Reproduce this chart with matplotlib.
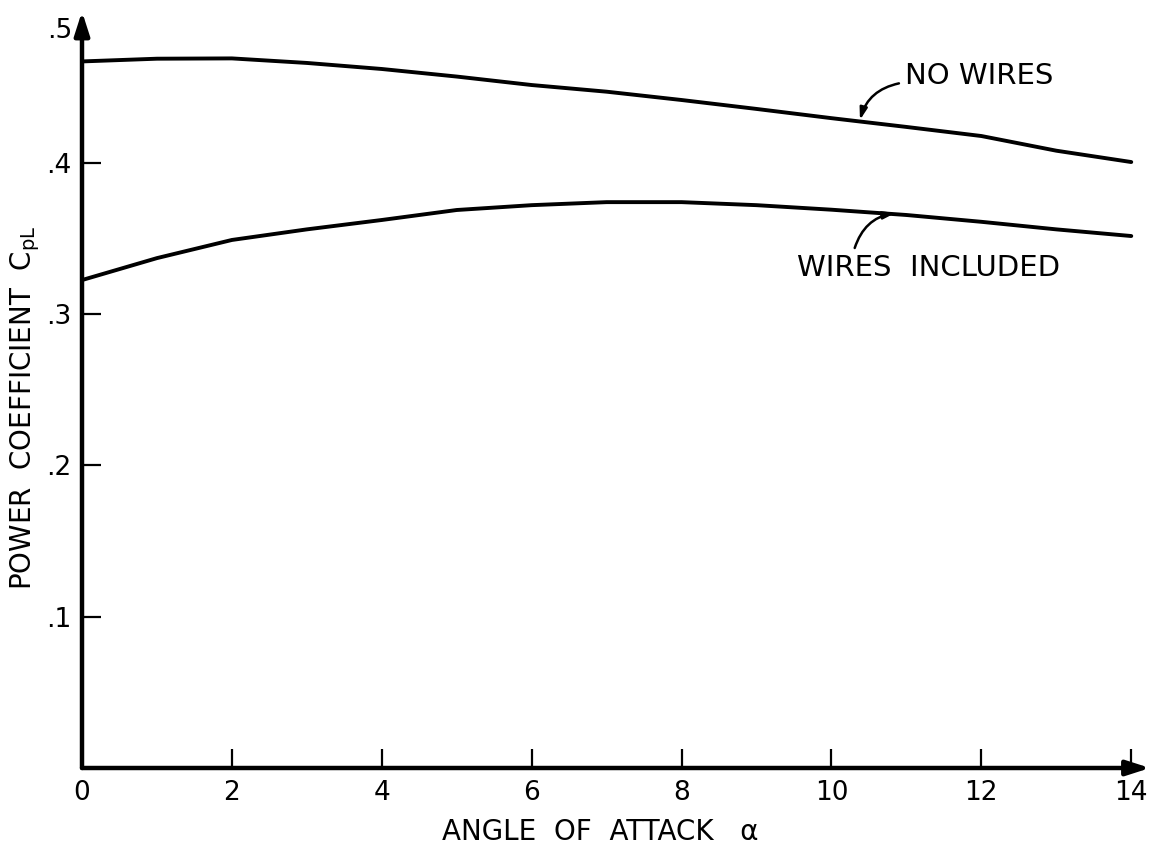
import matplotlib.pyplot as plt
import numpy as np


# 读图得到的数据：攻角 (deg) 与功率系数
ANGLE = [0, 1, 2, 3, 4, 5, 6, 7, 8, 9, 10, 11, 12, 13, 14]
CP_NO_WIRES = [0.467, 0.4688, 0.469, 0.466, 0.462, 0.457, 0.4514, 0.447,
               0.4415, 0.4356, 0.4295, 0.4237, 0.4177, 0.408, 0.4005]
CP_WIRES = [0.3225, 0.337, 0.349, 0.356, 0.3622, 0.3688, 0.372, 0.374,
            0.374, 0.372, 0.369, 0.3655, 0.361, 0.356, 0.3516]

X_TICKS = [0, 2, 4, 6, 8, 10, 12, 14]
X_TICK_LABELS = ["0", "2", "4", "6", "8", "10", "12", "14"]
Y_TICKS = [0.1, 0.2, 0.3, 0.4]
Y_TICK_LABELS = [".1", ".2", ".3", ".4"]

LINE_W = 2.8
AXIS_W = 3.2
FONT = "DejaVu Sans"

plt.rcParams["font.family"] = [FONT]
plt.rcParams["mathtext.default"] = "regular"

fig = plt.figure(figsize=(11.64, 8.49), dpi=100)
ax = fig.add_axes([82 / 1164, 81 / 849, (1150 - 82) / 1164, (768 - 11.5) / 849])
ax.set_xlim(0, 14.25)
ax.set_ylim(0, 0.5)

ax.plot(ANGLE, CP_NO_WIRES, color="black", lw=LINE_W, solid_capstyle="round")
ax.plot(ANGLE, CP_WIRES, color="black", lw=LINE_W, solid_capstyle="round")

# 坐标轴：去掉边框，用带箭头的线代替
for side in ["top", "right", "left", "bottom"]:
    ax.spines[side].set_visible(False)

arrow_style = "-|>,head_length=1.4,head_width=0.45"
ax.annotate("", xy=(0, 0.5), xytext=(0, 0), annotation_clip=False,
            arrowprops=dict(arrowstyle=arrow_style, lw=AXIS_W, color="black",
                            shrinkA=0, shrinkB=0))
ax.annotate("", xy=(14.25, 0), xytext=(0, 0), annotation_clip=False,
            arrowprops=dict(arrowstyle=arrow_style, lw=AXIS_W, color="black",
                            shrinkA=0, shrinkB=0))

ax.set_xticks(X_TICKS)
ax.set_xticklabels(X_TICK_LABELS)
ax.set_yticks(Y_TICKS)
ax.set_yticklabels(Y_TICK_LABELS)
ax.tick_params(direction="in", length=14, width=1.6, labelsize=19, pad=8)
ax.tick_params(axis="x", pad=9)

# 顶端的 .5 标签
ax.text(-0.13, 0.487, ".5", ha="right", va="center", fontsize=19)

fig.text(600 / 1164, 1 - 832 / 849, "ANGLE  OF  ATTACK   α", ha="center",
         va="center", fontsize=20)
fig.text(25 / 1164, 1 - 408 / 849, "POWER  COEFFICIENT  C$_{pL}$",
         ha="center", va="center", rotation=90, fontsize=20)

# 曲线标注：文字与箭头分开画
small_arrow = "-|>,head_length=0.7,head_width=0.22"
ax.text(10.98, 0.4574, "NO WIRES", ha="left", va="center", fontsize=21)
ax.annotate("", xy=(10.38, 0.4283), xytext=(10.9, 0.4525),
            arrowprops=dict(arrowstyle=small_arrow,
                            connectionstyle="arc3,rad=0.3", lw=1.8,
                            color="black", shrinkA=0, shrinkB=0))
ax.text(11.3, 0.3305, "WIRES  INCLUDED", ha="center", va="center", fontsize=21)
ax.annotate("", xy=(10.85, 0.3668), xytext=(10.31, 0.3437),
            arrowprops=dict(arrowstyle=small_arrow,
                            connectionstyle="arc3,rad=-0.3", lw=1.8,
                            color="black", shrinkA=0, shrinkB=0))

fig.savefig("out.png", dpi=100)
